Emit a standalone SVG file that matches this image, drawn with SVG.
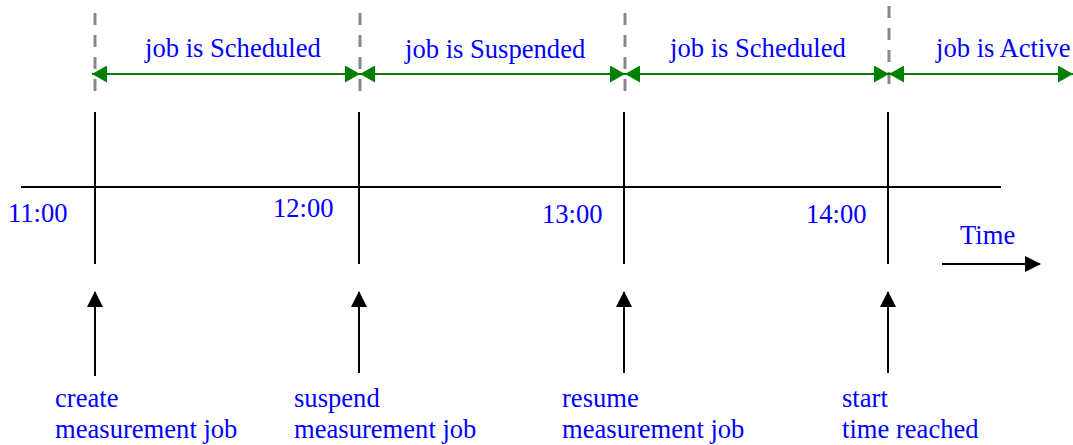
<svg xmlns="http://www.w3.org/2000/svg" width="1073" height="445" viewBox="0 0 1073 445">
<style>
text{font-family:"Liberation Serif","Times New Roman",serif;font-size:26.6px;fill:#0000ff}
.dash{stroke:#888888;stroke-width:3;stroke-dasharray:12,10;fill:none}
.green{stroke:#008000;stroke-width:2.2;fill:none;marker-start:url(#gs);marker-end:url(#ge)}
.blk{stroke:#000;stroke-width:2;fill:none}
.up{stroke:#000;stroke-width:2;fill:none;marker-end:url(#ba)}
</style>
<defs>
<marker id="ge" viewBox="0 0 15 17" refX="15" refY="8.5" markerWidth="15" markerHeight="17" markerUnits="userSpaceOnUse" orient="auto"><path d="M0,0 L15,8.5 L0,17 Z" fill="#008000"/></marker>
<marker id="gs" viewBox="0 0 15 17" refX="0" refY="8.5" markerWidth="15" markerHeight="17" markerUnits="userSpaceOnUse" orient="auto"><path d="M15,0 L0,8.5 L15,17 Z" fill="#008000"/></marker>
<marker id="ba" viewBox="0 0 16 16" refX="15" refY="8" markerWidth="16" markerHeight="16" markerUnits="userSpaceOnUse" orient="auto"><path d="M0,0 L16,8 L0,16 Z" fill="#000"/></marker>
</defs>
<g id="grid">
<line class="dash" x1="95" y1="13" x2="95" y2="93"/>
<line class="dash" x1="360" y1="13" x2="360" y2="93"/>
<line class="dash" x1="625" y1="13" x2="625" y2="93"/>
<line class="dash" x1="889" y1="6" x2="889" y2="93"/>
<line class="blk" x1="21" y1="187" x2="1001" y2="187"/>
<line class="blk" x1="95" y1="112" x2="95" y2="264"/>
<line class="blk" x1="359" y1="112" x2="359" y2="264"/>
<line class="blk" x1="624" y1="112" x2="624" y2="264"/>
<line class="blk" x1="888" y1="112" x2="888" y2="264"/>
</g>
<g id="connectors">
<line class="green" x1="92" y1="74" x2="360" y2="74"/>
<line class="green" x1="360" y1="74" x2="625" y2="74"/>
<line class="green" x1="625" y1="74" x2="889" y2="74"/>
<line class="green" x1="889" y1="74" x2="1073" y2="74"/>
<line class="up" x1="95" y1="376" x2="95" y2="292"/>
<line class="up" x1="359" y1="373" x2="359" y2="292"/>
<line class="up" x1="624" y1="373" x2="624" y2="292"/>
<line class="up" x1="888" y1="373" x2="888" y2="292"/>
<line class="up" x1="942" y1="264" x2="1040" y2="264"/>
</g>
<g id="state-labels">
<text x="145" y="57">job is Scheduled</text>
<text x="405" y="58">job is Suspended</text>
<text x="670" y="57">job is Scheduled</text>
<text x="936" y="57">job is Active</text>
</g>
<g id="times">
<text x="8" y="222">11:00</text>
<text x="273" y="217">12:00</text>
<text x="542" y="223">13:00</text>
<text x="806" y="223">14:00</text>
<text x="960" y="244">Time</text>
</g>
<g id="ev-create"><text x="55" y="407">create</text><text x="55" y="438">measurement job</text></g>
<g id="ev-suspend"><text x="294" y="407">suspend</text><text x="294" y="438">measurement job</text></g>
<g id="ev-resume"><text x="562" y="407">resume</text><text x="562" y="438">measurement job</text></g>
<g id="ev-start"><text x="842" y="407">start</text><text x="842" y="438">time reached</text></g>
</svg>
